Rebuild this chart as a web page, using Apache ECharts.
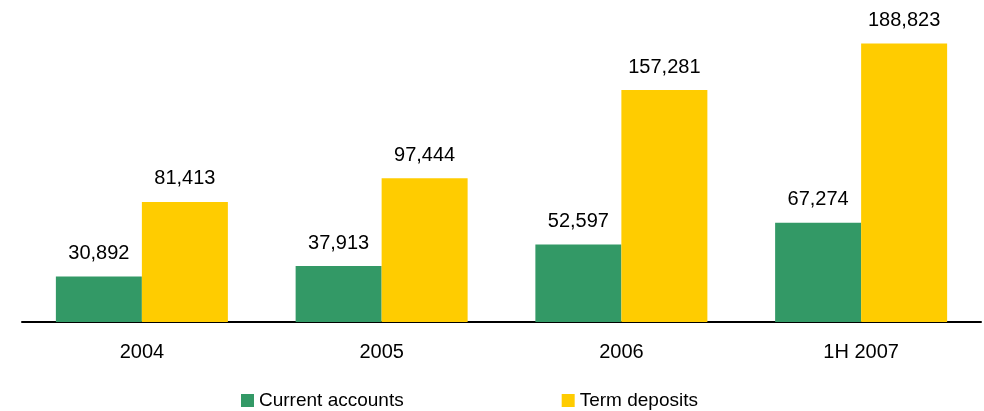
<!DOCTYPE html>
<html>
<head>
<meta charset="utf-8">
<script src="https://cdn.jsdelivr.net/npm/echarts@6/dist/echarts.min.js"></script>
<style>
  html, body { margin: 0; padding: 0; background: #fff; }
  #chart { width: 984px; height: 411px; }
</style>
</head>
<body>
<div id="chart"></div>
<script>
const categories = ['2004', '2005', '2006', '1H 2007'];
const currentAccounts = [30892, 37913, 52597, 67274];
const termDeposits = [81413, 97444, 157281, 188823];
const seriesNames = ['Current accounts', 'Term deposits'];

const font = 'Liberation Sans, Arial, sans-serif';
const fmt = p => p.value.toLocaleString('en-US');

const chart = echarts.init(document.getElementById('chart'));
chart.setOption({
  animation: false,
  grid: { left: 22, right: 3, top: 27, bottom: 89 },
  legend: {
    data: seriesNames,
    left: 236,
    top: 386,
    icon: 'rect',
    itemWidth: 13,
    itemHeight: 13,
    itemGap: 158,
    textStyle: { fontFamily: font, fontSize: 19, color: '#000' }
  },
  xAxis: {
    type: 'category',
    data: categories,
    axisLine: { lineStyle: { color: '#000', width: 2 } },
    axisTick: { show: false },
    axisLabel: { fontFamily: font, fontSize: 20, color: '#000', margin: 20 }
  },
  yAxis: {
    type: 'value',
    min: 0,
    max: 200000,
    show: false,
    splitLine: { show: false }
  },
  series: [
    {
      name: seriesNames[0],
      type: 'bar',
      data: currentAccounts,
      barWidth: 86,
      barGap: '0%',
      itemStyle: { color: '#339966' },
      label: { show: true, position: 'top', distance: 13, formatter: fmt,
               fontFamily: font, fontSize: 20, color: '#000' }
    },
    {
      name: seriesNames[1],
      type: 'bar',
      data: termDeposits,
      barWidth: 86,
      barGap: '0%',
      itemStyle: { color: '#FFCC00' },
      label: { show: true, position: 'top', distance: 13, formatter: fmt,
               fontFamily: font, fontSize: 20, color: '#000' }
    }
  ]
});
</script>
</body>
</html>
